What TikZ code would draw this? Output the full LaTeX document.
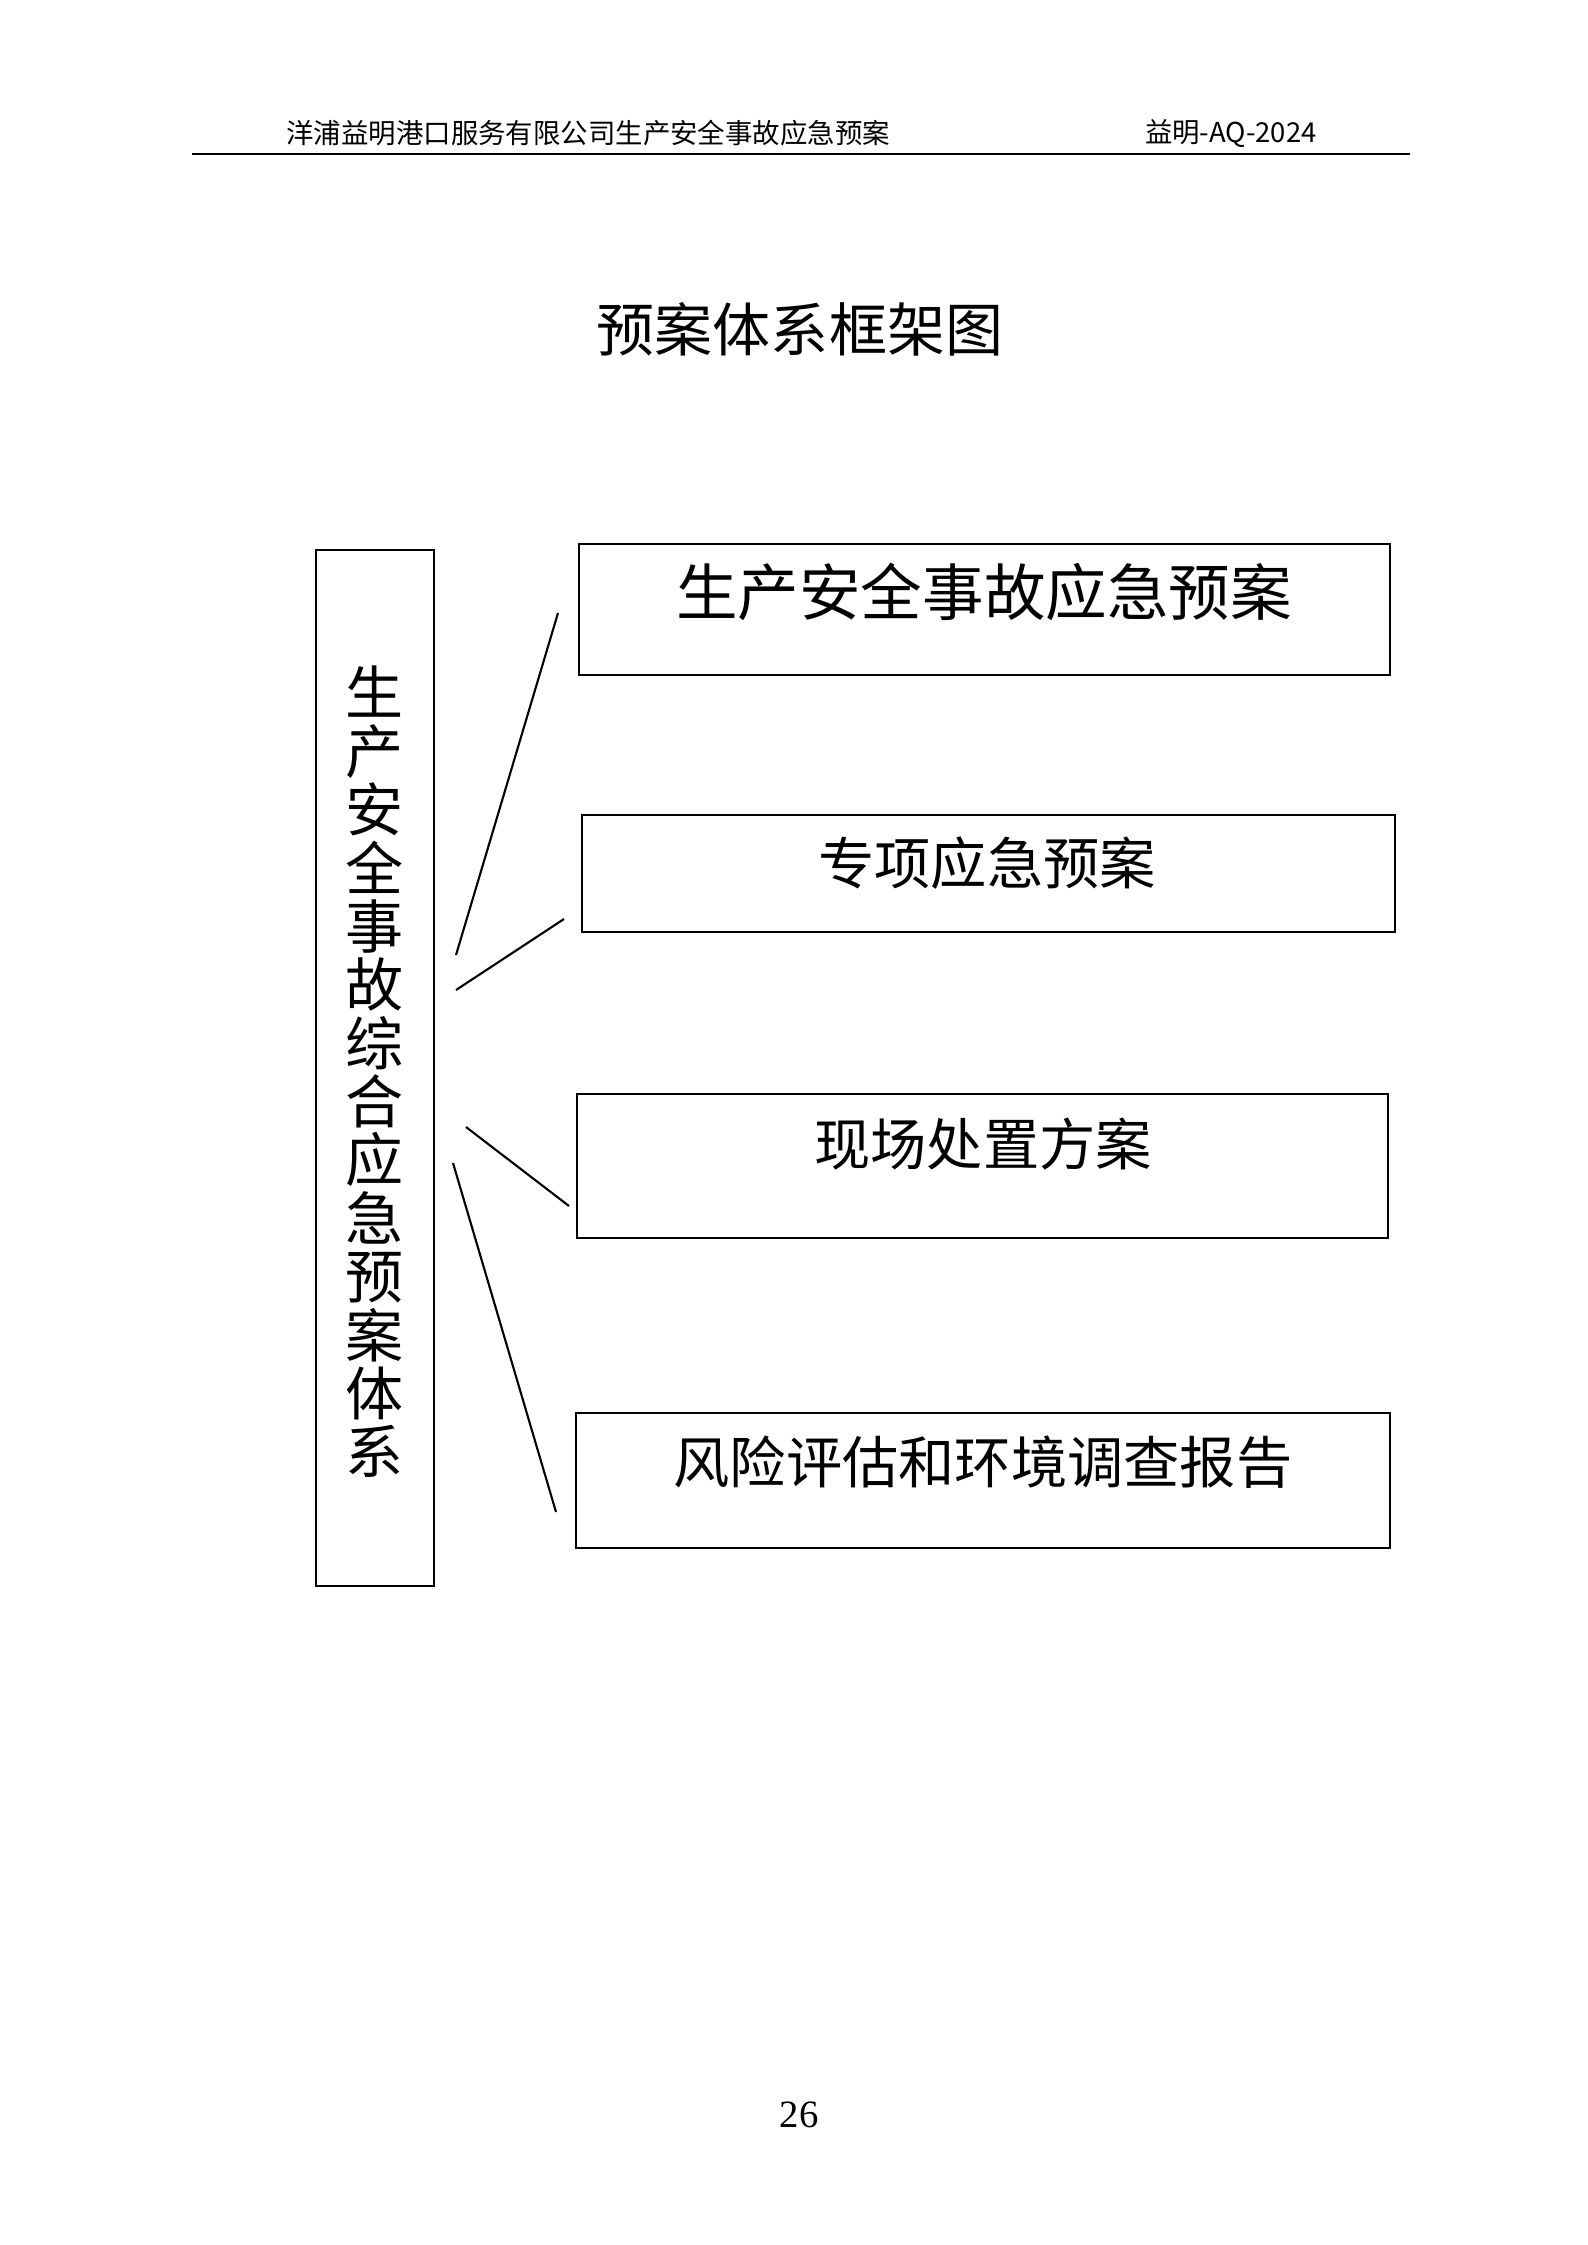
\documentclass[tikz,border=0pt]{standalone}
\usepackage{fontspec}
\setmainfont{Liberation Serif}
\newfontfamily\cjk{Noto Sans CJK SC}
\usetikzlibrary{fit}
\begin{document}
\begin{tikzpicture}[
  x=0.01cm, y=-0.01cm,
  planbox/.style={rectangle, draw, line width=0.7pt, inner sep=0pt},
  planlabel/.style={font=\cjk\fontsize{16}{16}\selectfont, inner sep=0pt},
  link/.style={line width=0.6pt},
]
\useasboundingbox (0,0) rectangle (1587,2245);

% ---- Header ----
\node[font=\cjk\fontsize{7.8}{7.8}\selectfont, anchor=west] (head) at (274,133)
  {洋浦益明港口服务有限公司生产安全事故应急预案};
\node[font=\cjk\fontsize{7.8}{7.8}\selectfont, anchor=east] (code) at (1329,133)
  {益明-AQ-2024};
\coordinate (rule_l) at (192,154);
\coordinate (rule_r) at (1410,154);
\draw[line width=0.5pt] (rule_l) -- (rule_r);

% ---- Title ----
\node[font=\cjk\fontsize{16.5}{16.5}\selectfont] (title) at (800,329) {预案体系框架图};

% ---- Left column ----
\node[planbox, fit={(316,550)(434,1586)}] (system) {};
\node[planlabel, align=center, font=\cjk\fontsize{16.5}{16.6}\selectfont] (system_txt) at (375,1072)
  {生\\产\\安\\全\\事\\故\\综\\合\\应\\急\\预\\案\\体\\系};

% ---- Right column ----
\node[planbox, fit={(579,544)(1390,675)}] (general) {};
\node[planlabel, font=\cjk\fontsize{17.5}{17.5}\selectfont] at (984,592) {生产安全事故应急预案};
\node[planbox, fit={(582,815)(1395,932)}] (special) {};
\node[planlabel] at (987,863) {专项应急预案};
\node[planbox, fit={(577,1094)(1388,1238)}] (onsite) {};
\node[planlabel] at (983,1144) {现场处置方案};
\node[planbox, fit={(576,1413)(1390,1548)}] (report) {};
\node[planlabel] at (983,1462) {风险评估和环境调查报告};

% Connectors
\coordinate (a1) at (456,955);  \coordinate (b1) at (558,613);
\coordinate (a2) at (456,990);  \coordinate (b2) at (564,919);
\coordinate (a3) at (466,1127); \coordinate (b3) at (569,1206);
\coordinate (a4) at (453,1163); \coordinate (b4) at (556,1512);
\foreach \i in {1,...,4}
  \draw[link] (a\i) -- (b\i);

% ---- Page number ----
\node[font=\fontsize{11}{11}\selectfont] (page) at (799,2115) {26};

\end{tikzpicture}
\end{document}
